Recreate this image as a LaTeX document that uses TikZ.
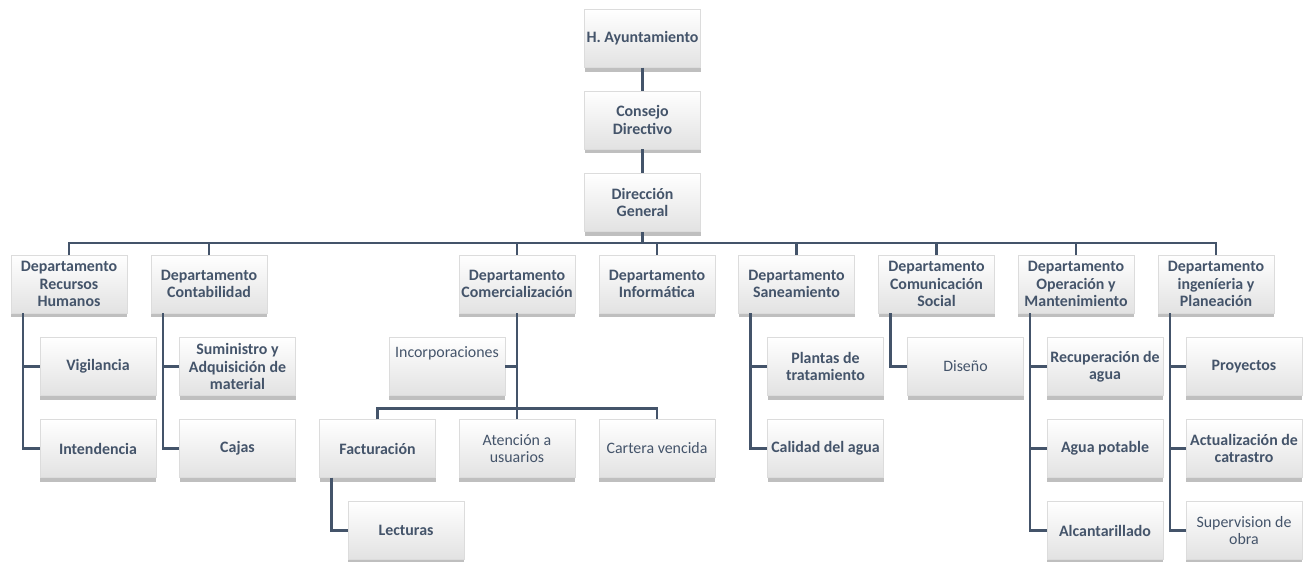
\documentclass[tikz,border=0pt]{standalone}
\usepackage{fontspec}
\setmainfont{Carlito}
\usetikzlibrary{shadows}
\definecolor{ink}{HTML}{44546A}
\definecolor{boxbot}{HTML}{E2E2E2}
\definecolor{boxedge}{HTML}{DCDCDC}
\tikzset{
  bx/.style={draw=boxedge, line width=0.3pt, top color=white, bottom color=boxbot,
    minimum width=116pt, minimum height=58pt, inner sep=1pt, align=center,
    text=ink, font=\fontsize{15.9}{17.4}\selectfont\bfseries,
    drop shadow={shadow xshift=0pt, shadow yshift=-4pt, fill=black, opacity=0.25}},
  lt/.style={font=\fontsize{15.9}{17.4}\selectfont},
  ln/.style={draw=ink, line width=2.6pt},
}
\begin{document}
\begin{tikzpicture}[x=1pt, y=-1pt]
\useasboundingbox (0,0) rectangle (1307,562);
% top chain
\node[bx] (ayu) at (642.5,38.5) {H. Ayuntamiento};
\node[bx] (con) at (642.5,120) {Consejo\\Directivo};
\node[bx] (dir) at (642.5,202.5) {Dirección\\General};
% departments
\node[bx] (rh)  at (69,284)    {Departamento\\Recursos\\Humanos};
\node[bx] (cta) at (209,284)   {Departamento\\Contabilidad};
\node[bx] (com) at (517,284)   {Departamento\\Comercialización};
\node[bx] (inf) at (657,284)   {Departamento\\Informática};
\node[bx] (san) at (796.5,284) {Departamento\\Saneamiento};
\node[bx] (cso) at (936.5,284) {Departamento\\Comunicación\\Social};
\node[bx] (ope) at (1076,284)  {Departamento\\Operación y\\Mantenimiento};
\node[bx] (ing) at (1216,284)  {Departamento\\ingeníeria y\\Planeación};
% children
\node[bx] (vig) at (98,366.5)  {Vigilancia};
\node[bx] (int) at (98,448.5)  {Intendencia};
\node[bx] (sum) at (237.5,366.5) {Suministro y\\Adquisición de\\material};
\node[bx] (caj) at (237.5,448.5) {Cajas};
\node[bx,lt] (inc) at (447,366.5) {Incorporaciones\\[12pt]\mbox{}};
\node[bx] (fac) at (377.5,448.5) {Facturación};
\node[bx,lt] (ate) at (517,448.5) {Atención a\\usuarios};
\node[bx,lt] (car) at (657,448.5) {Cartera vencida};
\node[bx] (lec) at (406,530.5) {Lecturas};
\node[bx] (pla) at (825.5,366.5) {Plantas de\\tratamiento};
\node[bx] (cal) at (825.5,448.5) {Calidad del agua};
\node[bx,lt] (dis) at (965.5,366.5) {Diseño};
\node[bx] (rec) at (1105,366.5) {Recuperación de\\agua};
\node[bx] (agu) at (1105,448.5) {Agua potable};
\node[bx] (alc) at (1105,530.5) {Alcantarillado};
\node[bx] (pro) at (1244,366.5) {Proyectos};
\node[bx] (act) at (1244,448.5) {Actualización de\\catrastro};
\node[bx,lt] (sup) at (1244,530.5) {Supervision de\\obra};
% connectors
\draw[ln] (ayu.south) -- (con.north);
\draw[ln] (con.south) -- (dir.north);
\foreach \d in {rh,cta,com,inf,san,cso,ope,ing}
  \draw[ln] (\d.north) -- ++(0,-12) -| (dir.south);
\foreach \p/\c in {rh/vig,rh/int,cta/sum,cta/caj,san/pla,san/cal,cso/dis,ope/rec,ope/agu,ope/alc,ing/pro,ing/act,ing/sup,fac/lec}
  \draw[ln] ([xshift=12pt]\p.south west) |- (\c.west);
\draw[ln] (inc.east) -| (com.south);
\foreach \c in {fac,ate,car}
  \draw[ln] (\c.north) -- ++(0,-11) -| (com.south);
\end{tikzpicture}
\end{document}
